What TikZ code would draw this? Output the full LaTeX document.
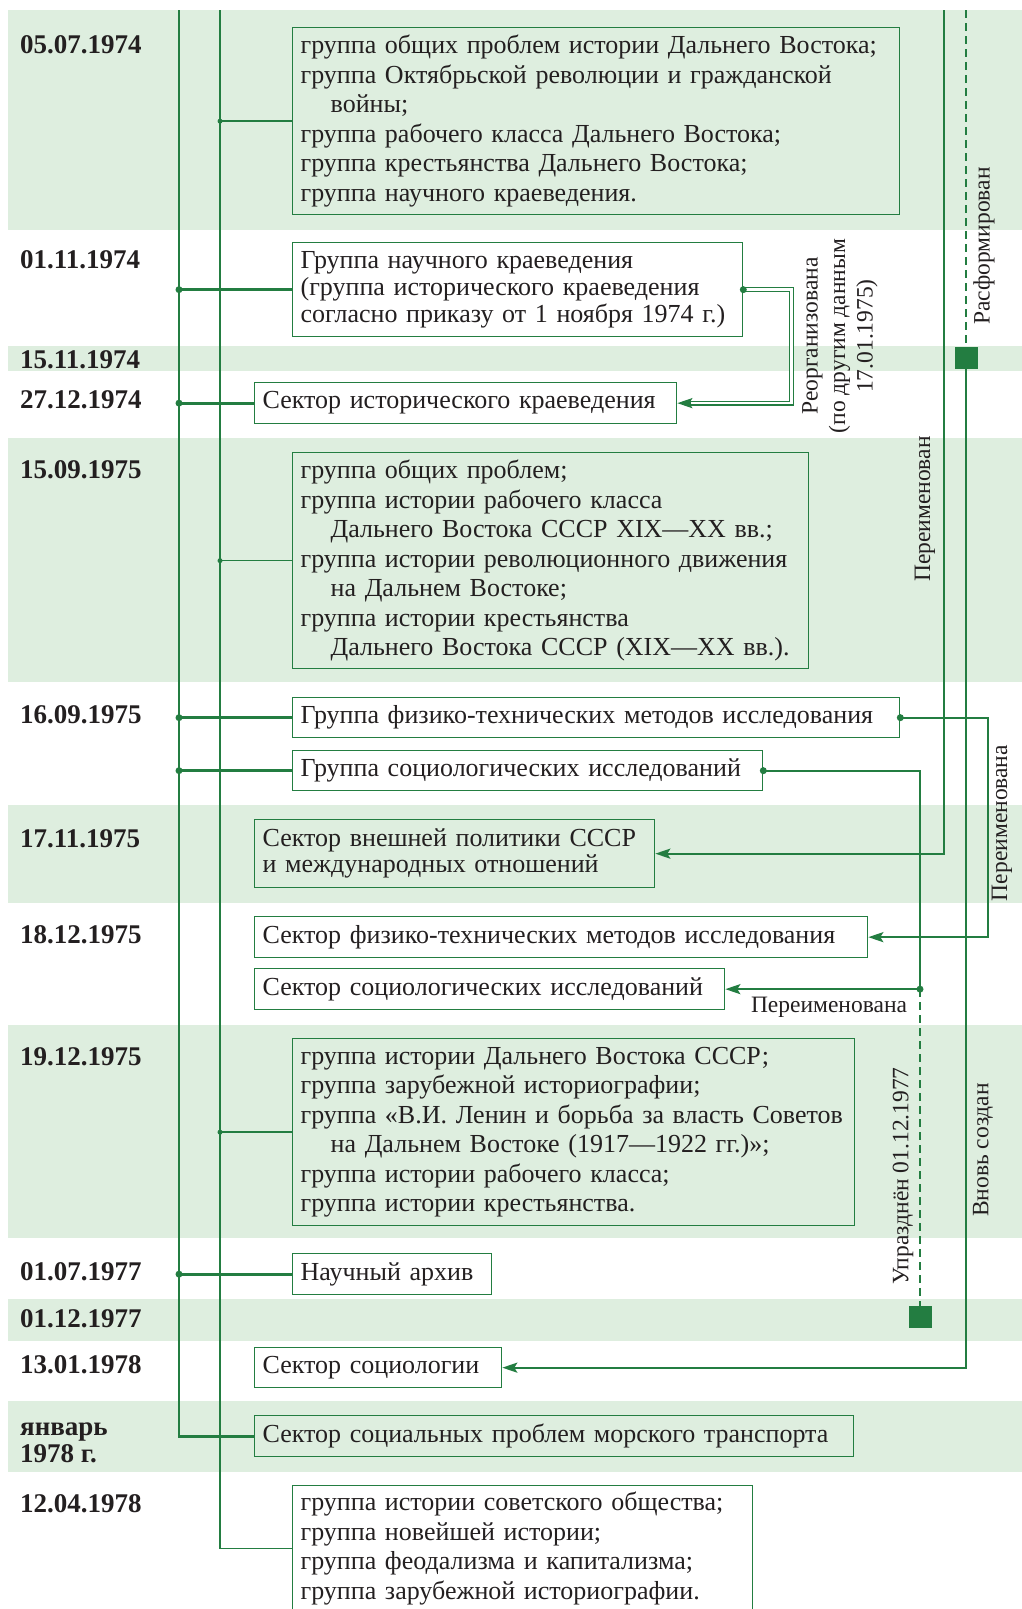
\documentclass[tikz,border=0pt]{standalone}
\usepackage{fontspec}
\setmainfont{Liberation Serif}
\usetikzlibrary{arrows.meta}
\definecolor{grn}{RGB}{35,125,65}
\definecolor{bandc}{RGB}{222,238,223}
\definecolor{ink}{RGB}{35,31,32}

\begin{document}
\begin{tikzpicture}[x=1pt,y=-1pt,
    every node/.style={text=ink},
    box/.style={draw=grn, line width=1.3pt, anchor=north west, align=left, inner xsep=8pt, inner ysep=0pt, font=\fontsize{26}{29.5}\selectfont},
    date/.style={anchor=base west, inner sep=0pt, align=left, font=\fontsize{27}{27}\selectfont\bfseries},
    lbl/.style={inner sep=0pt, align=center, font=\fontsize{23.5}{27.5}\selectfont},
    band/.style={fill=bandc},
    trunk/.style={grn, line width=2.7pt},
    twig/.style={grn, line width=1.4pt},
    link/.style={grn, line width=2.3pt},
    gone/.style={link, dash pattern=on 8pt off 5pt},
    tip/.style={-{Stealth[length=15pt,width=10pt,inset=3pt]}},
    sq/.style={fill=grn, minimum width=23pt, minimum height=22pt, inner sep=0pt},
]
    \useasboundingbox (0,0) rectangle (1022,1609);
    \clip (0,0) rectangle (1022,1609);

    % bands
    \fill[band] (8,10) rectangle (1022,230);
    \fill[band] (8,346) rectangle (1022,371);
    \fill[band] (8,438) rectangle (1022,682);
    \fill[band] (8,805) rectangle (1022,903);
    \fill[band] (8,1025) rectangle (1022,1238);
    \fill[band] (8,1299) rectangle (1022,1341);
    \fill[band] (8,1401) rectangle (1022,1472);

    % dates
    \node[date] (d1) at (20,53) {05.07.1974};
    \node[date] (d2) at (20,268) {01.11.1974};
    \node[date] (d3) at (20,368) {15.11.1974};
    \node[date] (d4) at (20,408) {27.12.1974};
    \node[date] (d5) at (20,478) {15.09.1975};
    \node[date] (d6) at (20,723) {16.09.1975};
    \node[date] (d7) at (20,847) {17.11.1975};
    \node[date] (d8) at (20,943) {18.12.1975};
    \node[date] (d9) at (20,1065) {19.12.1975};
    \node[date] (d10) at (20,1280) {01.07.1977};
    \node[date] (d11) at (20,1327) {01.12.1977};
    \node[date] (d12) at (20,1373) {13.01.1978};
    \node[date] (d13) at (20,1462) {январь\\1978 г.};
    \node[date] (d14) at (20,1512) {12.04.1978};

    % boxes
    \node[box, text width=591pt, minimum height=187pt] (A) at (292,27) {группа общих проблем истории Дальнего Востока;\\группа Октябрьской революции и гражданской\\\hspace*{30pt}войны;\\группа рабочего класса Дальнего Востока;\\группа крестьянства Дальнего Востока;\\группа научного краеведения.};
    \node[box, text width=434pt, minimum height=94pt, font=\fontsize{26}{27}\selectfont] (B) at (292,242) {Группа научного краеведения\\(группа исторического краеведения\\согласно приказу от 1 ноября 1974 г.)};
    \node[box, text width=406pt, minimum height=41pt] (C) at (254,382) {Сектор исторического краеведения};
    \node[box, text width=500pt, minimum height=216pt] (D) at (292,452) {группа общих проблем;\\группа истории рабочего класса\\\hspace*{30pt}Дальнего Востока СССР XIX—XX вв.;\\группа истории революционного движения\\\hspace*{30pt}на Дальнем Востоке;\\группа истории крестьянства\\\hspace*{30pt}Дальнего Востока СССР (XIX—XX вв.).};
    \node[box, text width=591pt, minimum height=40pt] (E) at (292,697) {Группа физико-технических методов исследования};
    \node[box, text width=454pt, minimum height=40pt] (F) at (292,750) {Группа социологических исследований};
    \node[box, text width=384pt, minimum height=68pt, font=\fontsize{26}{26}\selectfont] (G) at (254,819) {Сектор внешней политики СССР\\и международных отношений};
    \node[box, text width=597pt, minimum height=41pt] (H) at (254,916) {Сектор физико-технических методов исследования};
    \node[box, text width=454pt, minimum height=41pt] (I) at (254,968) {Сектор социологических исследований};
    \node[box, text width=546pt, minimum height=187pt] (J) at (292,1038) {группа истории Дальнего Востока СССР;\\группа зарубежной историографии;\\группа «В.И. Ленин и борьба за власть Советов\\\hspace*{30pt}на Дальнем Востоке (1917—1922 гг.)»;\\группа истории рабочего класса;\\группа истории крестьянства.};
    \node[box, text width=183pt, minimum height=41pt] (K) at (292,1253) {Научный архив};
    \node[box, text width=231pt, minimum height=40pt] (L) at (254,1347) {Сектор социологии};
    \node[box, text width=583pt, minimum height=41pt] (M) at (254,1415) {Сектор социальных проблем морского транспорта};
    \node[box, text width=444pt, minimum height=126pt] (N) at (292,1485) {группа истории советского общества;\\группа новейшей истории;\\группа феодализма и капитализма;\\группа зарубежной историографии.};

    % main lines
    \coordinate (trtop) at (179,10);
    \coordinate (twtop) at (220,10);
    \draw[trunk] (trtop) |- (M.west);
    \draw[twig] (twtop) |- (N.west);
    \draw[trunk] (trtop |- B.west) -- (B.west);
    \draw[trunk] (trtop |- C.west) -- (C.west);
    \draw[trunk] (trtop |- E.west) -- (E.west);
    \draw[trunk] (trtop |- F.west) -- (F.west);
    \draw[trunk] (trtop |- K.west) -- (K.west);
    \fill[grn] (trtop |- B.west) circle (3.5pt);
    \fill[grn] (trtop |- C.west) circle (3.5pt);
    \fill[grn] (trtop |- E.west) circle (3.5pt);
    \fill[grn] (trtop |- F.west) circle (3.5pt);
    \fill[grn] (trtop |- K.west) circle (3.5pt);
    \draw[twig] (twtop |- A.west) -- (A.west);
    \draw[twig] (twtop |- D.west) -- (D.west);
    \draw[twig] (twtop |- J.west) -- (J.west);
    \fill[grn] (twtop |- A.west) circle (2.5pt);
    \fill[grn] (twtop |- D.west) circle (2.5pt);
    \fill[grn] (twtop |- J.west) circle (2.5pt);

    % right side
    \coordinate (pertop) at (944,10);
    \coordinate (rastop) at (966,10);
    \coordinate (socx) at (920,0);
    \node[sq] (sqa) at (966,358) {};
    \node[sq] (sqb) at (920,1317) {};
    \draw[link, tip] (pertop) |- (G.east);
    \draw[gone] (rastop) -- (sqa.north);
    \draw[link, tip] (sqa.south) |- (L.east);
    \draw[grn, line width=1.2pt, double, double distance=2.5pt, shorten >=12pt] (B.east) -- ++(48,0) |- (C.east);
    \draw[link, tip] ([xshift=14pt]C.east) -- (C.east);
    \fill[grn] (B.east) circle (3.5pt);
    \draw[link, tip] (E.east) -- ++(88,0) |- (H.east);
    \fill[grn] (E.east) circle (3.5pt);
    \draw[link, tip] (F.east) -| (socx |- I.east) -- (I.east);
    \fill[grn] (F.east) circle (3.5pt);
    \fill[grn] (socx |- I.east) circle (3.5pt);
    \draw[gone] (socx |- I.east) -- (sqb.north);

    % labels
    \node[lbl, rotate=90] (reorg) at (840,336) {Реорганизована\\(по другим данным\\17.01.1975)};
    \node[lbl, rotate=90] (rasf) at (984,246) {Расформирован};
    \node[lbl, rotate=90] (pereim) at (925,509) {Переименован};
    \node[lbl, rotate=90] (pereima) at (1002,823) {Переименована};
    \node[lbl, anchor=base] (pereimb) at (829,1012) {Переименована};
    \node[lbl, rotate=90] (uprazd) at (903,1176) {Упразднён 01.12.1977};
    \node[lbl, rotate=90] (vnov) at (983,1150) {Вновь создан};
\end{tikzpicture}
\end{document}
